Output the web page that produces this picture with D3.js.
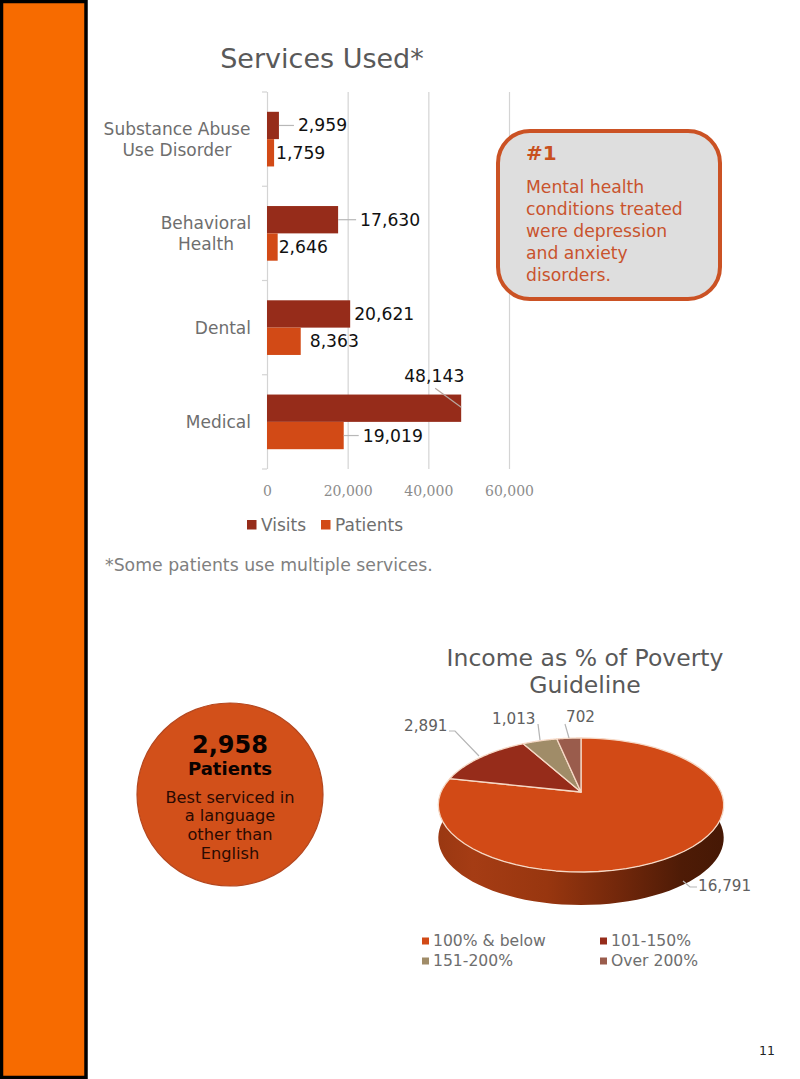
<!DOCTYPE html>
<html><head><meta charset="utf-8">
<script src="https://cdn.jsdelivr.net/npm/d3@7"></script>
<style>html,body{margin:0;padding:0;background:#fff}svg{display:block}text{font-family:"DejaVu Sans",Verdana,sans-serif}</style>
</head><body><svg id="c" width="800" height="1079"></svg>
<script>
// ---- data ----
const categories = ["Substance Abuse|Use Disorder","Behavioral|Health","Dental","Medical"];
const visits = [2959,17630,20621,48143];
const patients = [1759,2646,8363,19019];
const xTicks = [0,20000,40000,60000];
const incomeLabels = ["100% & below","101-150%","151-200%","Over 200%"];
const incomeValues = [16791,2891,1013,702];
const boxLines = ["Mental health","conditions treated","were depression","and anxiety","disorders."];
const circleLines = ["Best serviced in","a language","other than","English"];

// ---- style / layout ----
const VIS="#962c1a", PAT="#d24a16";
const incomeColors=["#d24a16","#962c1a","#a08c68","#9a5c4c"];
const svg=d3.select("#c");
const fmt=d3.format(",");
function T(g,x,y,s,size,fill,anchor,weight){return g.append("text").attr("x",x).attr("y",y+1).attr("font-size",size).attr("fill",fill).attr("text-anchor",anchor||"start").attr("font-weight",weight||"normal").attr("dominant-baseline","middle").text(s);}

// side band
svg.append("rect").attr("x",1.5).attr("y",1.5).attr("width",84.5).attr("height",1076).attr("fill","#f76b00").attr("stroke","#000").attr("stroke-width",3.5);

// ---- bar chart ----
const x=d3.scaleLinear().domain([0,60000]).range([267,509]);
const y=d3.scaleBand().domain(categories).range([92,469]).paddingInner(0.42).paddingOuter(0.21);
const inner=d3.scaleBand().domain(["v","p"]).range([0,y.bandwidth()]);
T(svg,322,59,"Services Used*",27,"#595959","middle");

const xAxis=d3.axisBottom(x).tickValues(xTicks).tickFormat(fmt).tickSize(-377).tickPadding(17);
const gx=svg.append("g").attr("transform","translate(0,469)").call(xAxis);
gx.select(".domain").remove();
gx.selectAll("line").attr("stroke","#d4d4d4").attr("stroke-width",1.2);
gx.selectAll("text").style("font-family","'DejaVu Serif',serif").attr("font-size",14).attr("fill","#8c8c8c");

// category ticks on band boundaries
const step=y.step();
const edges=d3.range(categories.length+1).map(i=>y(categories[0])-y.paddingOuter()*step+i*step);
svg.append("g").selectAll("line").data(edges).join("line").attr("x1",262).attr("x2",267).attr("y1",d=>d).attr("y2",d=>d).attr("stroke","#d4d4d4").attr("stroke-width",1.2);

const rows=categories.map((c,i)=>({c,v:visits[i],p:patients[i]}));
const gb=svg.append("g");
gb.selectAll("rect.v").data(rows).join("rect").attr("class","v").attr("x",x(0)).attr("y",d=>y(d.c)+inner("v")).attr("width",d=>x(d.v)-x(0)).attr("height",inner.bandwidth()).attr("fill",VIS);
gb.selectAll("rect.p").data(rows).join("rect").attr("class","p").attr("x",x(0)).attr("y",d=>y(d.c)+inner("p")).attr("width",d=>x(d.p)-x(0)).attr("height",inner.bandwidth()).attr("fill",PAT);

// category labels
rows.forEach(r=>{
  const parts=r.c.split("|"), cy=y(r.c)+y.bandwidth()/2, lh=21;
  const two=parts.length>1;
  parts.forEach((p,j)=>{
    const anchorX= two&&r.c.startsWith("Substance") ? 177 : two ? 206 : 251;
    const yy= two ? cy-lh*0.5+j*lh : cy;
    T(svg,two?anchorX:251,yy,p,17,"#6e6e6e",two?"middle":"end");
  });
});

// data labels: [series, row, label dx from bar end, label centre y offset from bar centre, leader]
const labelLayout=[
 ["v",0,19,0,true],["p",0,2,0,false],
 ["v",1,22,0,true],["p",1,1,0,false],
 ["v",2,4,0,false],["p",2,9,0,false],
 ["v",3,-57,-32,"diag"],["p",3,19,0,true]
];
labelLayout.forEach(([s,i,dx,dy,lead])=>{
  const val=s==="v"?visits[i]:patients[i];
  const bx=x(val), by=y(categories[i])+inner(s)+inner.bandwidth()/2;
  if(lead===true) svg.append("line").attr("x1",bx).attr("x2",bx+dx-4).attr("y1",by).attr("y2",by).attr("stroke","#b8b8b8").attr("stroke-width",1.2);
  if(lead==="diag") svg.append("line").attr("x1",bx).attr("y1",by-1).attr("x2",bx-26).attr("y2",by-20).attr("stroke","#b8a8a0").attr("stroke-width",1.2);
  T(svg,bx+dx,by+dy,fmt(val),17.2,"#111");
});

// bar legend
[["Visits",VIS,247],["Patients",PAT,321]].forEach(([t,c,lx])=>{
  svg.append("rect").attr("x",lx).attr("y",520).attr("width",9.5).attr("height",9.5).attr("fill",c);
  T(svg,lx+14,525,t,17,"#6e6e6e");
});
T(svg,105,565,"*Some patients use multiple services.",17.3,"#808080");

// ---- callout box ----
svg.append("rect").attr("x",498).attr("y",131).attr("width",222).attr("height",168).attr("rx",32).attr("fill","#dedede").attr("stroke","#cb5224").attr("stroke-width",4);
T(svg,526,153,"#1",20,"#c8501e","start","bold");
boxLines.forEach((l,i)=>T(svg,526,187+i*22,l,17.2,"#c9532d"));

// ---- circle ----
svg.append("ellipse").attr("cx",230).attr("cy",794.5).attr("rx",93).attr("ry",91.5).attr("fill","#d2501a").attr("stroke","#b4471f").attr("stroke-width",1.2);
T(svg,230,745,"2,958",24,"#0a0200","middle","bold");
T(svg,230,769,"Patients",18,"#0a0200","middle","bold");
circleLines.forEach((l,i)=>T(svg,230,797+i*18.7,l,16.2,"#2a0a02","middle"));

// ---- 3D pie (perspective projection of a tilted disc) ----
T(svg,585,658,"Income as % of Poverty",23.5,"#595959","middle");
T(svg,585,685,"Guideline",23.5,"#595959","middle");
const PX=581,PY=792,R=140,S=64.5,K=0.194,DEPTH=33;
const proj=a=>{const u=Math.sin(a),v=Math.cos(a),w=1+K*v;return [PX+R*u/w,PY-S*v/w];};
const arcs=d3.pie().sort(null)(incomeValues);
const line=d3.line();
const sample=(a0,a1)=>d3.range(0,61).map(i=>proj(a0+(a1-a0)*i/60));

// side wall: from right extreme to left extreme around the front
const defs=svg.append("defs");
const grad=defs.append("linearGradient").attr("id","wall").attr("gradientUnits","userSpaceOnUse").attr("x1",439).attr("x2",724).attr("y1",0).attr("y2",0);
[[0,"#9a3812"],[0.12,"#a53c14"],[0.38,"#98360f"],[0.62,"#74280b"],[0.85,"#4e1b06"],[1,"#461805"]].forEach(([o,c])=>grad.append("stop").attr("offset",o).attr("stop-color",c));
const front=sample(Math.PI*0.47,Math.PI*1.53);
const wall=front.concat(front.slice().reverse().map(p=>[p[0],p[1]+DEPTH]));
svg.append("path").attr("d",line(wall)+"Z").attr("fill","url(#wall)");

// top faces
svg.append("g").selectAll("path").data(arcs).join("path")
 .attr("d",d=>line([[PX,PY]].concat(sample(d.startAngle,d.endAngle)))+"Z")
 .attr("fill",(d,i)=>incomeColors[i]).attr("stroke","#f6d9c6").attr("stroke-width",1.3).attr("stroke-linejoin","round");

// pie labels & leaders
const pieLeaders=[
 [[683,881],[690,887],[697,887]],
 [[479,756],[455,731],[449,731]],
 [[540,740],[538,724]],
 [[569,738],[565,724]]
];
svg.append("g").selectAll("path").data(pieLeaders).join("path").attr("d",d=>line(d)).attr("fill","none").attr("stroke","#b5b5b5").attr("stroke-width",1.2);
const pieLabelPos=[[698,885,"start"],[404,725,"start"],[492,718,"start"],[566,716,"start"]];
incomeValues.forEach((v,i)=>T(svg,pieLabelPos[i][0],pieLabelPos[i][1],fmt(v),15.2,"#606060",pieLabelPos[i][2]));

// pie legend
const legendPos=[[422,941],[600,941],[422,961],[600,961]];
incomeLabels.forEach((l,i)=>{
  svg.append("rect").attr("x",legendPos[i][0]).attr("y",legendPos[i][1]-3.5).attr("width",7).attr("height",7).attr("fill",incomeColors[i]);
  T(svg,legendPos[i][0]+11,legendPos[i][1]-0.5,l,15.6,"#6e6e6e");
});

T(svg,767,1050,"11",12.5,"#222","middle");
</script></body></html>
